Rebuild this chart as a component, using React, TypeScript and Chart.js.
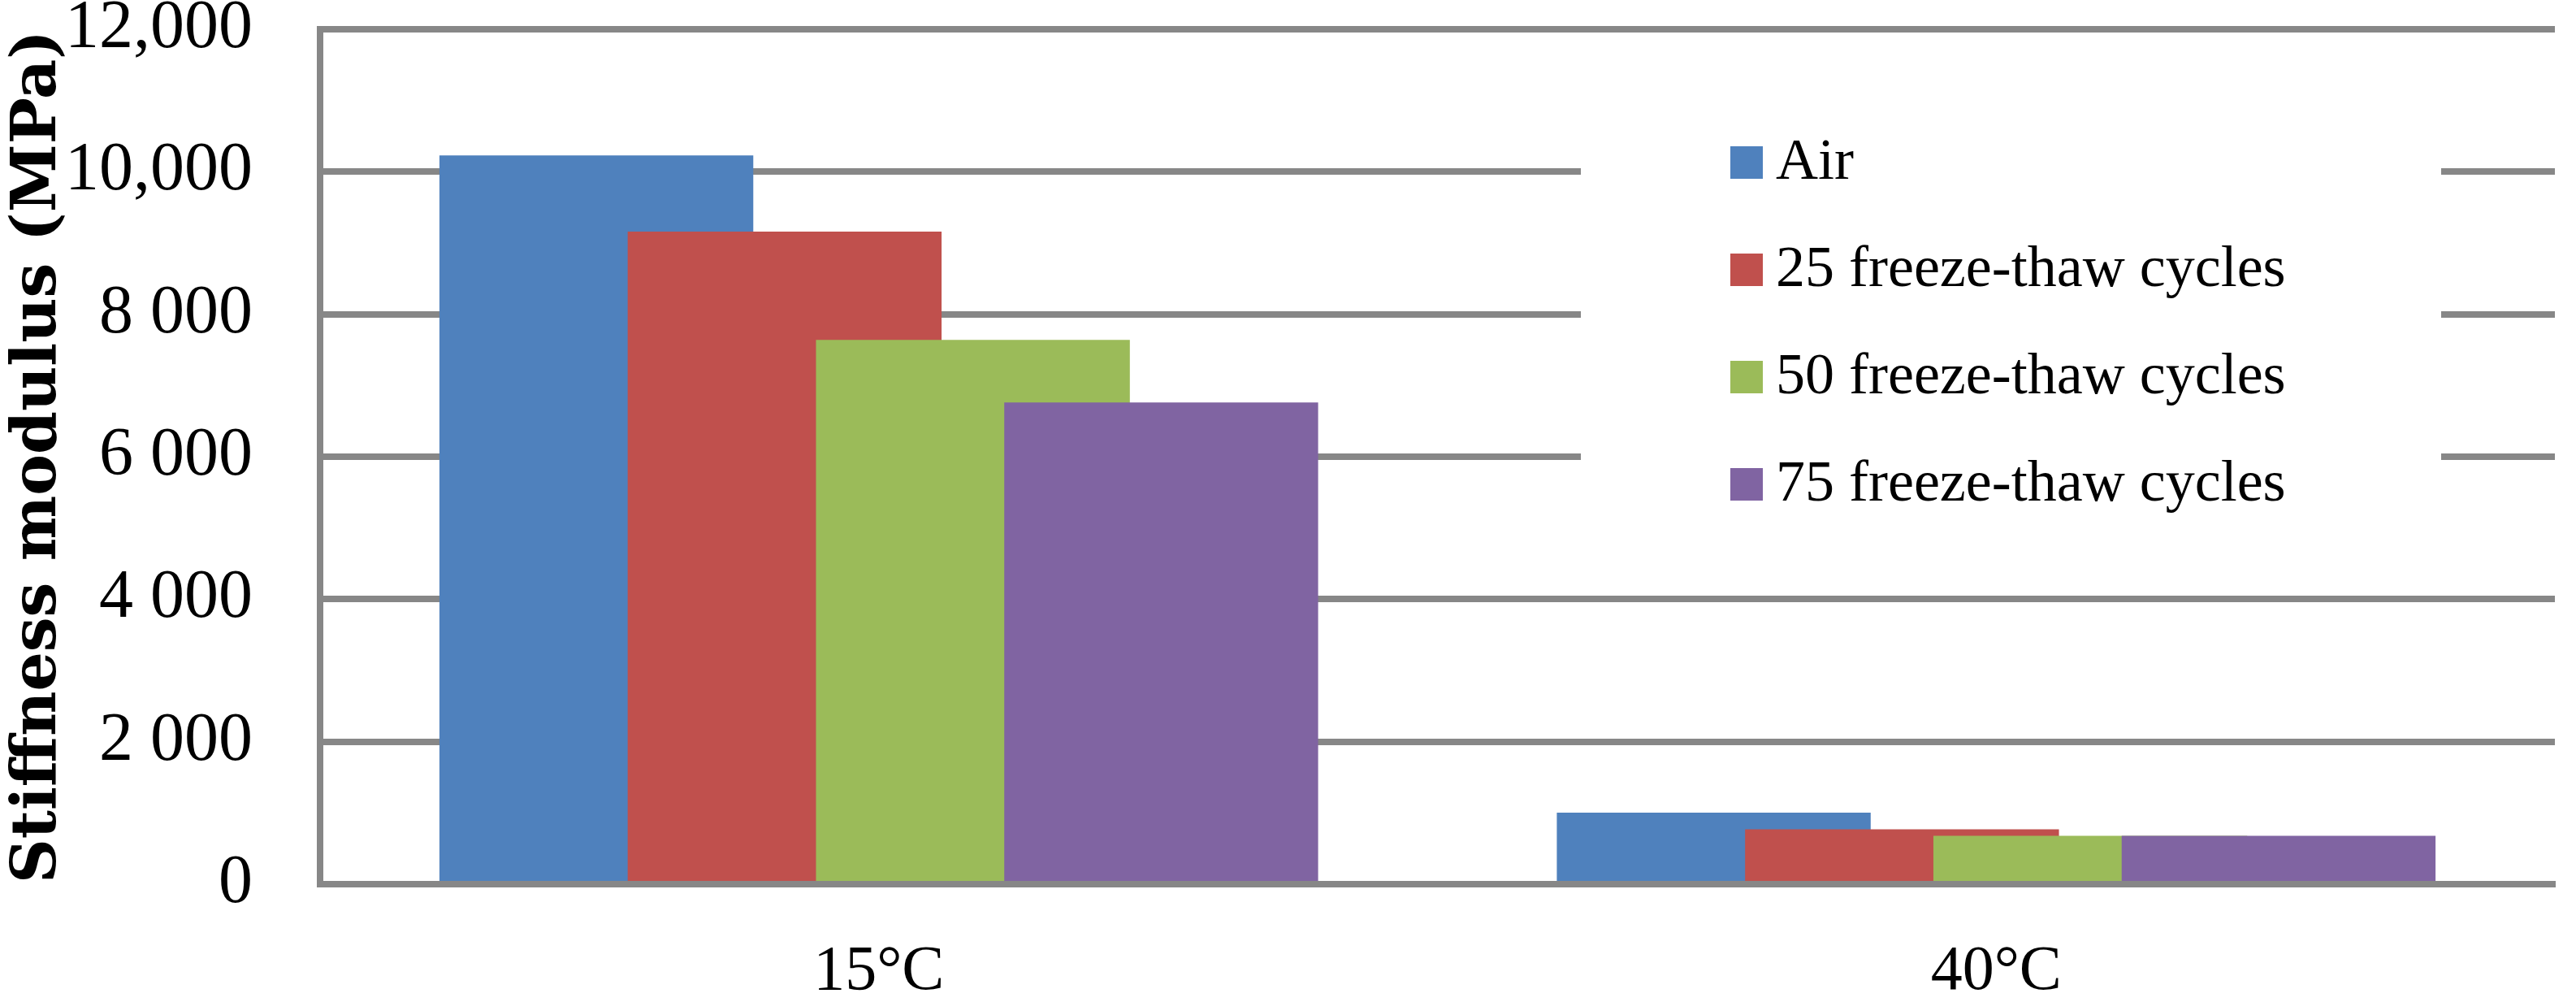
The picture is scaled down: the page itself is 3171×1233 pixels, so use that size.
import React, { useEffect, useRef } from 'react';
import { Chart, registerables } from 'chart.js';

Chart.register(...registerables);

const categories = ['15°C', '40°C'];
const seriesNames = ['Air', '25 freeze-thaw cycles', '50 freeze-thaw cycles', '75 freeze-thaw cycles'];
const airValues = [10230, 1005];
const ft25Values = [9160, 770];
const ft50Values = [7640, 680];
const ft75Values = [6760, 680];
const seriesColors = ['#4F81BD', '#C0504D', '#9BBB59', '#8064A2'];
const yTickValues = [0, 2000, 4000, 6000, 8000, 10000, 12000];
const yTickLabels = ['0', '2 000', '4 000', '6 000', '8 000', '10,000', '12,000'];
const yAxisTitle = 'Stiffness modulus (MPa)';

const GRID = '#878787';

// draw datasets in index order so that later series sit on top of earlier ones
const drawOrderPlugin = {
  id: 'drawOrder',
  beforeDatasetsDraw(chart: any) {
    const metas = chart.getSortedVisibleDatasetMetas().slice().sort((a: any, b: any) => a.index - b.index);
    for (const m of metas) m.controller.draw();
    return false;
  },
};

const boxLegendPlugin = {
  id: 'boxLegend',
  afterDraw(chart: any, _args: any, opts: any) {
    const ctx = chart.ctx;
    ctx.save();
    ctx.fillStyle = '#ffffff';
    ctx.fillRect(opts.boxLeft, opts.boxTop, opts.boxRight - opts.boxLeft, opts.boxBottom - opts.boxTop);
    ctx.font = opts.font;
    ctx.textBaseline = 'alphabetic';
    ctx.textAlign = 'left';
    chart.data.datasets.forEach((ds: any, i: number) => {
      const cy = opts.firstRowY + i * opts.rowGap;
      ctx.fillStyle = ds.backgroundColor;
      ctx.fillRect(opts.squareX, cy - opts.squareSize / 2, opts.squareSize, opts.squareSize);
      ctx.fillStyle = '#000000';
      ctx.fillText(ds.label, opts.textX, cy + opts.baselineShift);
    });
    ctx.restore();
  },
};

export default function App() {
  const canvasRef = useRef<HTMLCanvasElement | null>(null);

  useEffect(() => {
    document.body.style.margin = '0';
    const canvas = canvasRef.current;
    if (!canvas) return;
    const valueSets = [airValues, ft25Values, ft50Values, ft75Values];
    const chart = new Chart(canvas, {
      type: 'bar',
      data: {
        labels: categories,
        datasets: seriesNames.map((name, i) => ({
          label: name,
          data: valueSets[i],
          backgroundColor: seriesColors[i],
          borderWidth: 0,
          categoryPercentage: 0.674,
          barPercentage: 1.667,
        })),
      },
      options: {
        animation: false,
        responsive: false,
        events: [],
        layout: { padding: { top: 36, right: 26, bottom: 0, left: 0 } },
        plugins: {
          legend: { display: false },
          tooltip: { enabled: false },
          boxLegend: {
            boxLeft: 1946,
            boxRight: 3005,
            boxTop: 110,
            boxBottom: 650,
            squareX: 2130,
            squareSize: 40,
            textX: 2186,
            firstRowY: 200,
            rowGap: 132,
            baselineShift: 20,
            font: '72px "Liberation Serif"',
          },
        } as any,
        scales: {
          x: {
            grid: { display: false, drawTicks: false },
            border: { display: true, color: GRID, width: 8 },
            ticks: {
              color: '#000000',
              padding: 62,
              font: { family: 'Liberation Serif', size: 78 },
            },
            afterFit: (scale: any) => {
              scale.height = 145;
            },
          },
          y: {
            min: 0,
            max: 12000,
            afterBuildTicks: (scale: any) => {
              scale.ticks = yTickValues.map((v) => ({ value: v }));
            },
            grid: { color: GRID, lineWidth: 8, drawTicks: false },
            border: { display: true, color: GRID, width: 8 },
            ticks: {
              color: '#000000',
              padding: 83,
              font: { family: 'Liberation Serif', size: 84, lineHeight: 0.8 },
              callback: (value: any) => {
                const idx = yTickValues.indexOf(Number(value));
                return idx >= 0 ? yTickLabels[idx] : '';
              },
            },
            title: {
              display: true,
              text: yAxisTitle,
              color: '#000000',
              font: { family: 'DejaVu Serif', size: 76, weight: 'bold', lineHeight: 1 },
              padding: { top: 10, bottom: 0 },
            },
            afterFit: (scale: any) => {
              scale.width = 394;
              scale.paddingTop = 30;
              scale.paddingBottom = 30;
            },
          },
        },
      },
      plugins: [drawOrderPlugin, boxLegendPlugin],
    });
    return () => chart.destroy();
  }, []);

  return (
    <div style={{ width: 3171, height: 1233, background: '#ffffff' }}>
      <canvas ref={canvasRef} width={3171} height={1233} style={{ display: 'block' }} />
    </div>
  );
}
